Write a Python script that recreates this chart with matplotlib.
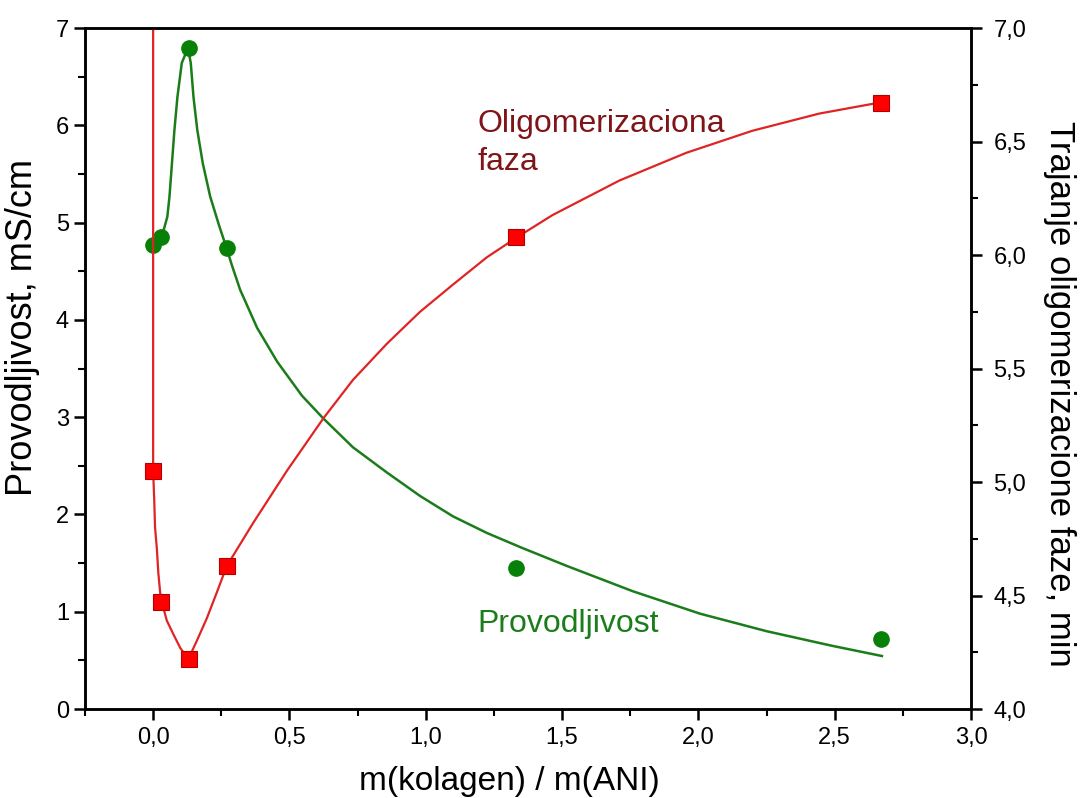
import matplotlib
matplotlib.use('Agg')
import matplotlib.pyplot as plt
from matplotlib.ticker import MultipleLocator, FuncFormatter

plt.rcParams['font.family'] = ['Liberation Sans', 'DejaVu Sans']

# measured points
x_pts = [0.0, 0.03, 0.13, 0.27, 1.33, 2.67]
provodljivost = [4.77, 4.85, 6.79, 4.74, 1.45, 0.72]          # mS/cm, left axis
trajanje = [5.05, 4.47, 4.22, 4.63, 6.08, 6.67]               # min, right axis

# fitted curves
green_x = [0.0, 0.032, 0.052, 0.060, 0.069, 0.078, 0.089, 0.105, 0.124, 0.128,
           0.138, 0.148, 0.162, 0.182, 0.209, 0.243, 0.268, 0.289, 0.319, 0.381,
           0.455, 0.546, 0.623, 0.733, 0.858, 0.979, 1.100, 1.224, 1.35, 1.518,
           1.76, 2.006, 2.25, 2.49, 2.673]
green_y = [4.77, 4.855, 5.06, 5.27, 5.61, 5.95, 6.29, 6.64, 6.77, 6.79,
           6.64, 6.29, 5.95, 5.61, 5.27, 4.96, 4.75, 4.56, 4.31, 3.92,
           3.57, 3.22, 2.99, 2.69, 2.43, 2.19, 1.98, 1.81, 1.66, 1.47,
           1.21, 0.98, 0.80, 0.65, 0.545]

red_x = [0.0, 0.0, 0.004, 0.007, 0.014, 0.019, 0.026, 0.032, 0.050, 0.074, 0.099,
         0.129, 0.160, 0.197, 0.234, 0.270, 0.367, 0.491, 0.624, 0.733, 0.858,
         0.979, 1.100, 1.224, 1.337, 1.465, 1.71, 1.955, 2.197, 2.443, 2.671]
red_y = [7.5, 5.05, 4.92, 4.80, 4.70, 4.60, 4.51, 4.47, 4.39, 4.33, 4.27,
         4.22, 4.30, 4.40, 4.515, 4.63, 4.82, 5.05, 5.28, 5.45, 5.61,
         5.75, 5.87, 5.99, 6.08, 6.176, 6.328, 6.45, 6.547, 6.623, 6.673]

GREEN = '#1a7d1a'
RED = '#e02424'


def comma(v, pos):
    return f'{v:.1f}'.replace('.', ',')


fig = plt.figure(figsize=(10.84, 7.98), dpi=100)
ax = fig.add_axes([0.0784, 0.1115, 0.8174, 0.8534])
ax2 = ax.twinx()

ax.plot(green_x, green_y, color=GREEN, lw=1.8, zorder=2, solid_joinstyle='round')
ax.plot(x_pts, provodljivost, 'o', color='#078007', ms=11, zorder=3)
ax2.plot(red_x, red_y, color=RED, lw=1.6, zorder=2, solid_joinstyle='round')
ax2.plot(x_pts, trajanje, 's', color='#ff0000', mec='#b00000', mew=0.8, ms=11, zorder=3)

ax.set_xlim(-0.25, 3.0)
ax.set_ylim(0, 7)
ax2.set_ylim(4.0, 7.0)

ax.xaxis.set_major_locator(MultipleLocator(0.5))
ax.xaxis.set_minor_locator(MultipleLocator(0.25))
ax.xaxis.set_major_formatter(FuncFormatter(comma))
ax.yaxis.set_major_locator(MultipleLocator(1))
ax.yaxis.set_minor_locator(MultipleLocator(0.5))
ax2.yaxis.set_major_locator(MultipleLocator(0.5))
ax2.yaxis.set_minor_locator(MultipleLocator(0.25))
ax2.yaxis.set_major_formatter(FuncFormatter(comma))

for a in (ax, ax2):
    for s in a.spines.values():
        s.set_linewidth(1.8)
    a.tick_params(which='major', direction='out', length=8, width=1.8, labelsize=17)
    a.tick_params(which='minor', direction='out', length=5, width=1.5)
ax.tick_params(axis='x', pad=5)
ax2.tick_params(axis='y', pad=8)

ax.set_xlabel('m(kolagen) / m(ANI)', fontsize=24, va='center')
ax.xaxis.set_label_coords(0.4786, -0.1057)
ax.set_ylabel('Provodljivost, mS/cm', fontsize=26, va='center')
ax.yaxis.set_label_coords(-0.071, 0.56)
ax2.set_ylabel('Trajanje oligomerizacione faze, min', fontsize=25,
               rotation=-90, va='center')
ax2.yaxis.set_label_coords(1.1, 0.4626)

ax.text(1.188, 5.54, 'Oligomerizaciona\nfaza', color='#7e1518', fontsize=23,
        linespacing=1.35, va='baseline')
ax.text(1.19, 0.79, 'Provodljivost', color=GREEN, fontsize=23, va='baseline')

fig.savefig('out.png', dpi=100)
